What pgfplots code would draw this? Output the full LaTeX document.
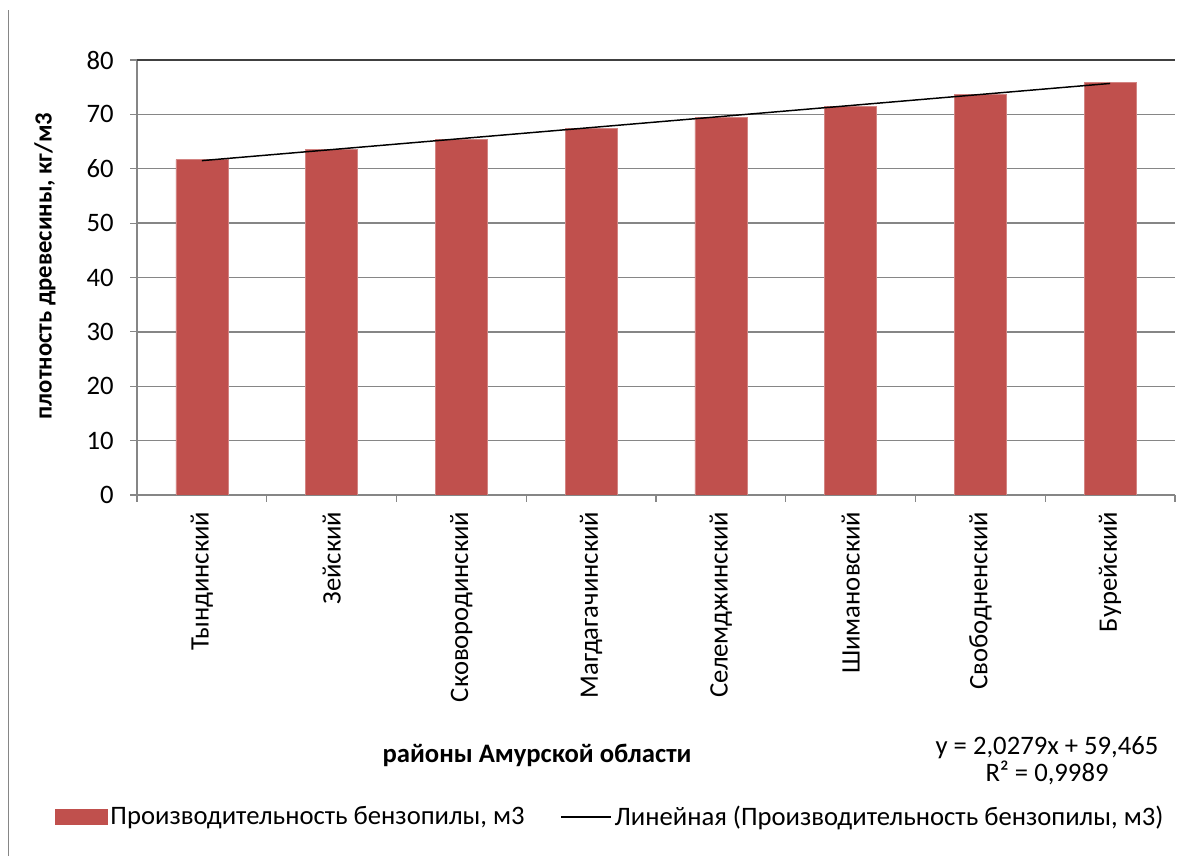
\documentclass[border=0pt]{standalone}
\usepackage{pgfplots}
\pgfplotsset{compat=1.18}
\usepackage{fontspec}
\setmainfont{Carlito}
\definecolor{barred}{HTML}{C0504D}
\definecolor{gridgray}{HTML}{868686}
\newcommand{\chartfont}{\fontsize{20}{24}\selectfont}
\begin{document}
\begin{tikzpicture}
% canvas measured in pixels (1 px = 0.75 pt), origin at bottom left
\begin{scope}[x=0.75pt,y=0.75pt]
\useasboundingbox (0,0) rectangle (1191,856);
\draw[gridgray, line width=1.2pt] (8.5,0) -- (8.5,846);
\end{scope}
\begin{axis}[
  at={(102.75pt,270.75pt)}, anchor=south west,
  scale only axis, width=778.5pt, height=326.25pt,
  xmin=0.5, xmax=8.5, ymin=0, ymax=80,
  ytick={0,10,...,70},
  extra y ticks={80},
  extra y tick style={grid style={black!75, line width=1.1pt}},
  xtick={1,...,8},
  xticklabels={Тындинский,Зейский,Сковородинский,Магдагачинский,Селемджинский,Шимановский,Свободненский,Бурейский},
  minor xtick={0.5,1.5,...,8.5},
  major x tick style={draw=none},
  tick align=outside,
  major tick length=5pt, minor tick length=5pt,
  every tick/.style={gridgray, line width=0.9pt},
  minor tick style={gridgray, line width=0.9pt},
  axis x line*=bottom, axis y line*=left,
  axis line style={gridgray, line width=1pt, -},
  ymajorgrids, grid style={gridgray, line width=1pt},
  tick label style={font=\chartfont, black},
  x tick label style={rotate=90, anchor=east},
  xticklabel shift=4pt,
  every y tick label/.append style={xshift=-9pt},
  /pgf/number format/assume math mode=true,
  legend style={at={(-0.079,-0.74)}, anchor=west, draw=none, fill=none,
    font=\chartfont, legend columns=2,
    /tikz/every even column/.append style={column sep=25pt},
    inner sep=0pt, cells={anchor=west}},
]
\addplot[ybar, bar width=39pt, fill=barred, draw=barred!70!white, line width=0.4pt,
  legend image code/.code={\fill[barred] (0pt,-5.5pt) rectangle (39pt,5.5pt);}]
  coordinates {(1,61.7) (2,63.6) (3,65.4) (4,67.4) (5,69.4) (6,71.5) (7,73.7) (8,75.9)};
\addlegendentry{Производительность бензопилы, м3}
% linear trend y = 2.0279x + 59.465
\addplot[black, line width=1.1pt, mark=none,
  legend image code/.code={\draw[black, line width=0.9pt] (0pt,0pt) -- (37.5pt,0pt);}]
  coordinates {(1,61.4929) (8,75.6882)};
\addlegendentry{Линейная (Производительность бензопилы, м3)}
\end{axis}
\begin{scope}[x=0.75pt,y=0.75pt]
\node[rotate=90, font=\fontsize{18.5}{22}\selectfont\bfseries] at (45,590) {плотность древесины, кг/м3};
\node[font=\chartfont\bfseries] at (537,101) {районы Амурской области};
\node[font=\chartfont] at (1047,108) {y = 2,0279x + 59,465};
\node[font=\chartfont] at (1047,83) {R² = 0,9989};
\end{scope}
\end{tikzpicture}
\end{document}
